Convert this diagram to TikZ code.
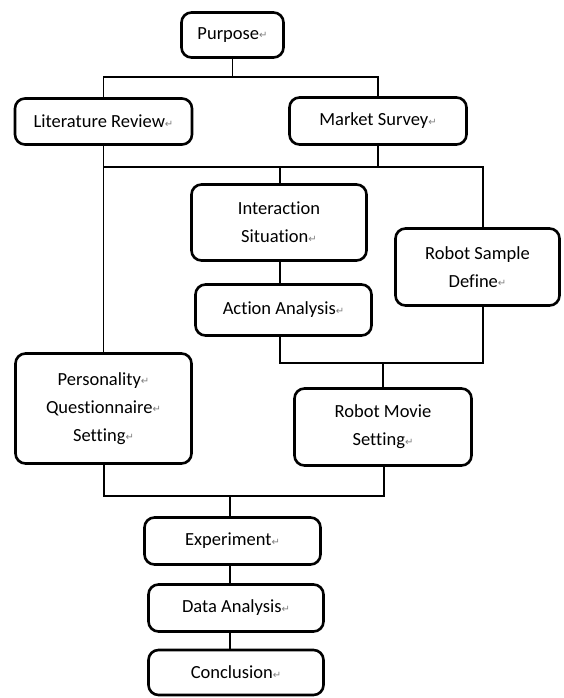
\documentclass[tikz,border=0pt]{standalone}
\usepackage{fontspec}
\setmainfont{Carlito}[Ligatures={NoCommon,NoRequired,NoContextual}]
\newfontfamily\markfont{DejaVu Sans}
\newcommand{\parmark}{{\markfont\fontsize{10}{10}\selectfont\color{gray}\raisebox{0.5pt}{↵}}}
\begin{document}
\begin{tikzpicture}[x=1pt,y=1pt,
  box/.style={draw, line width=2.6pt, rounded corners=10pt, align=center,
    inner sep=0pt, font={\fontsize{18.5}{28}\selectfont}},
  conn/.style={draw, line width=1.2pt}]
\useasboundingbox[fill=white] (0,0) rectangle (563,-698);
\node[box, minimum width=102, minimum height=45] (purpose) at (232.5,-35) {Purpose\parmark};
\node[box, minimum width=177, minimum height=46] (lit) at (103.5,-121.5) {Literature Review\parmark};
\node[box, minimum width=177, minimum height=47] (market) at (378,-121) {Market Survey\parmark};
\node[box, minimum width=175, minimum height=76] (inter) at (279,-222.5) {Interaction\\Situation\parmark};
\node[box, minimum width=176, minimum height=51] (action) at (283.5,-310) {Action Analysis\parmark};
\node[box, minimum width=164, minimum height=77] (robot) at (477.5,-267) {Robot Sample\\Define\parmark};
\node[box, minimum width=176, minimum height=110] (person) at (103.5,-408.5) {Personality\parmark\\Questionnaire\parmark\\Setting\parmark};
\node[box, minimum width=177, minimum height=77] (movie) at (383,-427) {Robot Movie\\Setting\parmark};
\node[box, minimum width=176, minimum height=47] (exp) at (232.5,-541) {Experiment\parmark};
\node[box, minimum width=175, minimum height=47] (data) at (236,-608) {Data Analysis\parmark};
\node[box, minimum width=175, minimum height=45] (concl) at (236,-672.5) {Conclusion\parmark};
% junction coordinates
\coordinate (j1) at (232.5,-77);
\coordinate (j2) at (104,-167);
\coordinate (j2r) at (483,-167);
\coordinate (j3) at (280,-363);
\coordinate (j3r) at (483,-363);
\coordinate (j4) at (104,-496);
\coordinate (j4r) at (384,-496);
\coordinate (j4m) at (230,-496);
% Purpose -> Literature / Market
\draw[conn] (purpose.south) -- (j1);
\draw[conn] (lit.north) |- (j1);
\draw[conn] (market.north) |- (j1);
% Literature / Market -> second level
\draw[conn] (lit.south) -- (lit.south |- person.north);
\draw[conn] (market.south) -- (market.south |- j2);
\draw[conn] (j2) -- (j2r) -- (j2r |- robot.north);
\draw[conn] (inter.north -| j3) -- (j3 |- j2);
% Interaction -> Action
\draw[conn] (j3 |- inter.south) -- (j3 |- action.north);
% Action / Robot Sample -> Robot Movie
\draw[conn] (j3 |- action.south) -- (j3) -- (j3r) -- (j3r |- robot.south);
\draw[conn] (movie.north) -- (movie.north |- j3);
% Personality / Movie -> Experiment
\draw[conn] (j4 |- person.south) -- (j4) -- (j4r) -- (j4r |- movie.south);
\draw[conn] (j4m) -- (j4m |- exp.north);
% Experiment -> Data -> Conclusion
\draw[conn] (j4m |- exp.south) -- (j4m |- data.north);
\draw[conn] (j4m |- data.south) -- (j4m |- concl.north);
\end{tikzpicture}
\end{document}
